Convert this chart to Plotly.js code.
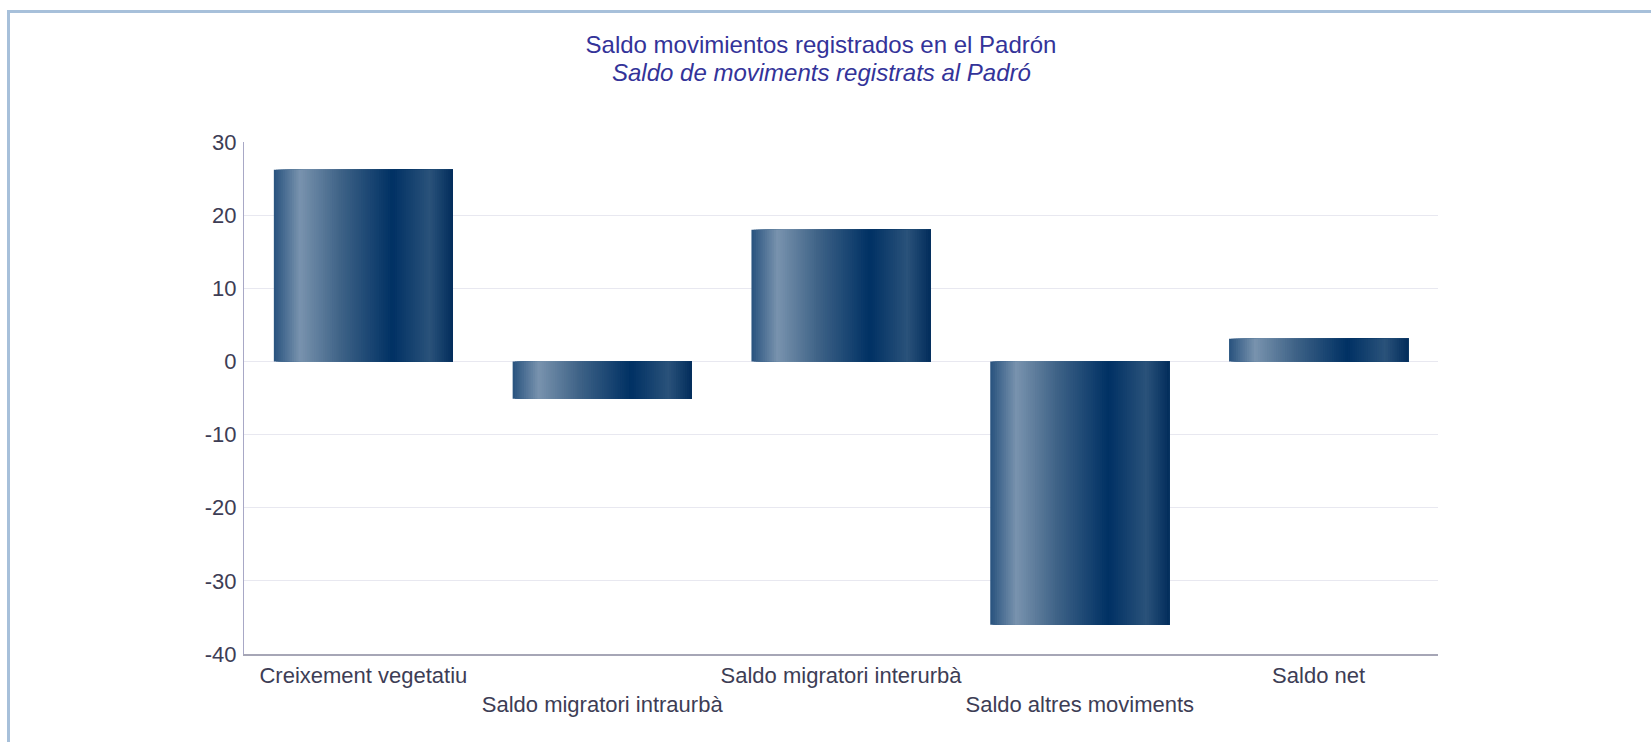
<!DOCTYPE html>
<html>
<head>
<meta charset="utf-8">
<script src="https://cdn.plot.ly/plotly-3.0.1.min.js"></script>
<style>
  html, body { margin: 0; padding: 0; background: #ffffff; }
  #wrap { position: relative; width: 1651px; height: 742px; overflow: hidden; }
  #frame { position: absolute; left: 7px; top: 10px; width: 1700px; height: 800px;
           border-left: 3px solid #a7c0da; border-top: 3px solid #a7c0da; }
  #chart { position: absolute; left: 0; top: 0; width: 1651px; height: 742px; }
</style>
</head>
<body>
<div id="wrap">
  <div id="frame"></div>
  <div id="chart"></div>
</div>
<script>
// ---- data ----
const categories = ['Creixement vegetatiu', 'Saldo migratori intraurbà', 'Saldo migratori interurbà', 'Saldo altres moviments', 'Saldo net'];
const values = [26.2, -5.1, 18.0, -36.0, 3.1];
const tickLabels = ['Creixement vegetatiu', '<br>Saldo migratori intraurbà', 'Saldo migratori interurbà', '<br>Saldo altres moviments', 'Saldo net'];
const yTickVals = [-40, -30, -20, -10, 0, 10, 20, 30];
const yTickText = ['-40', '-30', '-20', '-10', '0', '10', '20', '30'];
const titleMain = 'Saldo movimientos registrados en el Padrón';
const titleSub = 'Saldo de moviments registrats al Padró';

// ---- horizontal gradient of the bars, built as overlapping strips ----
const gradStops = [
  [0.000, [0x28, 0x52, 0x7e]],
  [0.145, [0x79, 0x93, 0xae]],
  [0.370, [0x3f, 0x63, 0x87]],
  [0.660, [0x00, 0x31, 0x64]],
  [0.870, [0x2a, 0x52, 0x7a]],
  [1.000, [0x02, 0x2d, 0x5c]]
];
function gradColor(t) {
  for (let k = 0; k < gradStops.length - 1; k++) {
    const [t0, c0] = gradStops[k], [t1, c1] = gradStops[k + 1];
    if (t >= t0 && t <= t1) {
      const f = (t - t0) / (t1 - t0);
      const c = c0.map((v, j) => Math.round(v + (c1[j] - v) * f));
      return 'rgb(' + c.join(',') + ')';
    }
  }
  return 'rgb(2,45,92)';
}
const barWidth = 0.75;
const nStrips = 80;
const traces = [];
for (let i = 0; i < nStrips; i++) {
  const start = i * barWidth / nStrips;
  traces.push({
    type: 'bar',
    x: categories,
    y: values,
    offset: -barWidth / 2 + start,
    width: barWidth - start,
    marker: { color: gradColor((i + 0.5) / nStrips), line: { width: 0 } },
    hoverinfo: 'skip',
    showlegend: false
  });
}

const fontFam = 'Liberation Sans, Arial, sans-serif';
const layout = {
  width: 1651,
  height: 742,
  paper_bgcolor: 'rgba(0,0,0,0)',
  plot_bgcolor: '#ffffff',
  barmode: 'overlay',
  margin: { l: 244, r: 213, t: 142, b: 88 },
  font: { family: fontFam, color: '#3d3d55', size: 22 },
  title: {
    text: titleMain,
    font: { family: fontFam, size: 24, color: '#333399' },
    x: 821 / 1651, xref: 'container', xanchor: 'center',
    y: 1 - 45 / 742, yref: 'container', yanchor: 'middle'
  },
  annotations: [{
    text: '<i>' + titleSub + '</i>',
    font: { family: fontFam, size: 24, color: '#333399' },
    xref: 'paper', yref: 'paper',
    x: (821 - 244) / 1194, y: (654 - 72) / 512,
    xanchor: 'center', yanchor: 'middle',
    showarrow: false
  }],
  xaxis: {
    type: 'category',
    tickmode: 'array',
    tickvals: categories,
    ticktext: tickLabels,
    tickangle: 0,
    showgrid: false,
    showline: true,
    linecolor: '#a6a6b6',
    linewidth: 2,
    ticks: '',
    ticklabelstandoff: 1,
    tickfont: { family: fontFam, size: 22, color: '#3d3d55' },
    fixedrange: true
  },
  yaxis: {
    range: [-40, 30],
    tickmode: 'array',
    tickvals: yTickVals,
    ticktext: yTickText,
    showgrid: true,
    gridcolor: '#e8e8f0',
    gridwidth: 1,
    zeroline: true,
    zerolinecolor: '#e8e8f0',
    zerolinewidth: 1,
    showline: true,
    linecolor: '#a8a8c6',
    linewidth: 1,
    ticks: '',
    ticklabelstandoff: 2,
    tickfont: { family: fontFam, size: 22, color: '#3d3d55' },
    fixedrange: true
  }
};

Plotly.newPlot('chart', traces, layout, { displayModeBar: false, staticPlot: true });
</script>
</body>
</html>
